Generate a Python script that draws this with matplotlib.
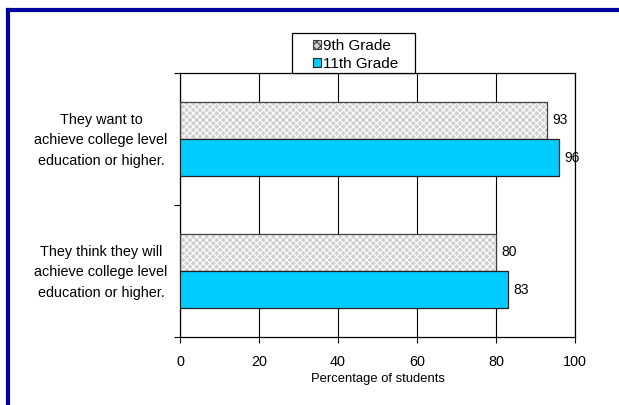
import matplotlib
matplotlib.use("Agg")
import matplotlib.pyplot as plt
from matplotlib.patches import Rectangle, Patch
from matplotlib.lines import Line2D
from matplotlib.transforms import ScaledTranslation
import numpy as np

categories = ["They want to\nachieve college level\neducation or higher.",
              "They think they will\nachieve college level\neducation or higher."]
series_names = ["9th Grade", "11th Grade"]
grade9 = [93, 80]
grade11 = [96, 83]
xticks = [0, 20, 40, 60, 80, 100]

plt.rcParams['font.family'] = ['Liberation Sans', 'DejaVu Sans']
plt.rcParams['hatch.linewidth'] = 0.8

fig = plt.figure(figsize=(6.19, 4.05), dpi=100)
ax = fig.add_axes([180/619, 1-337/405, (575-180)/619, (337-73)/405])

ypos = np.array([1, 0])
h = 0.284
gray = '#cfcfcf'
cyan = '#00CCFF'

# 9th grade: hatched fill then outline
ax.barh(ypos + h/2, grade9, height=h, color=gray, hatch='xxxxx', edgecolor='white', linewidth=0, zorder=2)
ax.barh(ypos + h/2, grade9, height=h, color='none', edgecolor='#404040', linewidth=0.9, zorder=3)
ax.barh(ypos - h/2, grade11, height=h, color=cyan, edgecolor='#202020', linewidth=0.9, zorder=3)

for y, v in zip(ypos + h/2, grade9):
    ax.text(v + 1.3, y, str(v), va='center', ha='left', fontsize=10, zorder=5)
for y, v in zip(ypos - h/2, grade11):
    ax.text(v + 1.3, y, str(v), va='center', ha='left', fontsize=10, zorder=5)

ax.set_xlim(0, 100)
ax.set_ylim(-0.5, 1.5)
ax.set_xticks(xticks)
ax.set_xticklabels([str(t) for t in xticks], fontsize=10.4)
ax.tick_params(axis='x', length=4, width=0.8, pad=9, direction='out')
ax.xaxis.grid(True, color='black', linewidth=0.8, zorder=0)
ax.set_axisbelow(True)

ax.set_yticks(ypos)
ax.set_yticklabels(categories, fontsize=10.4, multialignment='center', linespacing=1.58)
ax.tick_params(axis='y', which='major', length=0, pad=9)
ax.set_yticks([-0.5, 0.5, 1.5], minor=True)
ax.tick_params(axis='y', which='minor', length=4, width=0.8, direction='out')
shift = ScaledTranslation(0, 3.5/100, fig.dpi_scale_trans)
for lbl in ax.get_yticklabels():
    lbl.set_transform(lbl.get_transform() + shift)

ax.set_xlabel("Percentage of students", fontsize=9.4, labelpad=3)
for s in ax.spines.values():
    s.set_linewidth(0.9)
    s.set_color('black')

handles = [Patch(facecolor=gray, edgecolor='#404040', hatch='xxxx', linewidth=0.8),
           Patch(facecolor=cyan, edgecolor='#202020', linewidth=0.8)]
leg = fig.legend(handles, series_names, loc='upper left', bbox_to_anchor=(313/619, 1-39/405),
                 bbox_transform=fig.transFigure, fontsize=11, frameon=False,
                 handlelength=0.55, handleheight=0.55, handletextpad=0.12,
                 labelspacing=0.25, borderpad=0, borderaxespad=0)
leg.set_zorder(11)
fig.add_artist(Rectangle((292/619, 1-73/405), (415-292)/619, 40/405, transform=fig.transFigure,
                         facecolor='white', edgecolor='black', linewidth=0.9, zorder=9))

# outer frame (blue top/left borders)
fig.add_artist(Line2D([8/619, 8/619], [-0.05, 1-10/405], color='#0000A0', linewidth=3, transform=fig.transFigure))
fig.add_artist(Line2D([8/619, 1.05], [1-10/405, 1-10/405], color='#0000A0', linewidth=3, transform=fig.transFigure))

fig.savefig("out.png", dpi=100)
